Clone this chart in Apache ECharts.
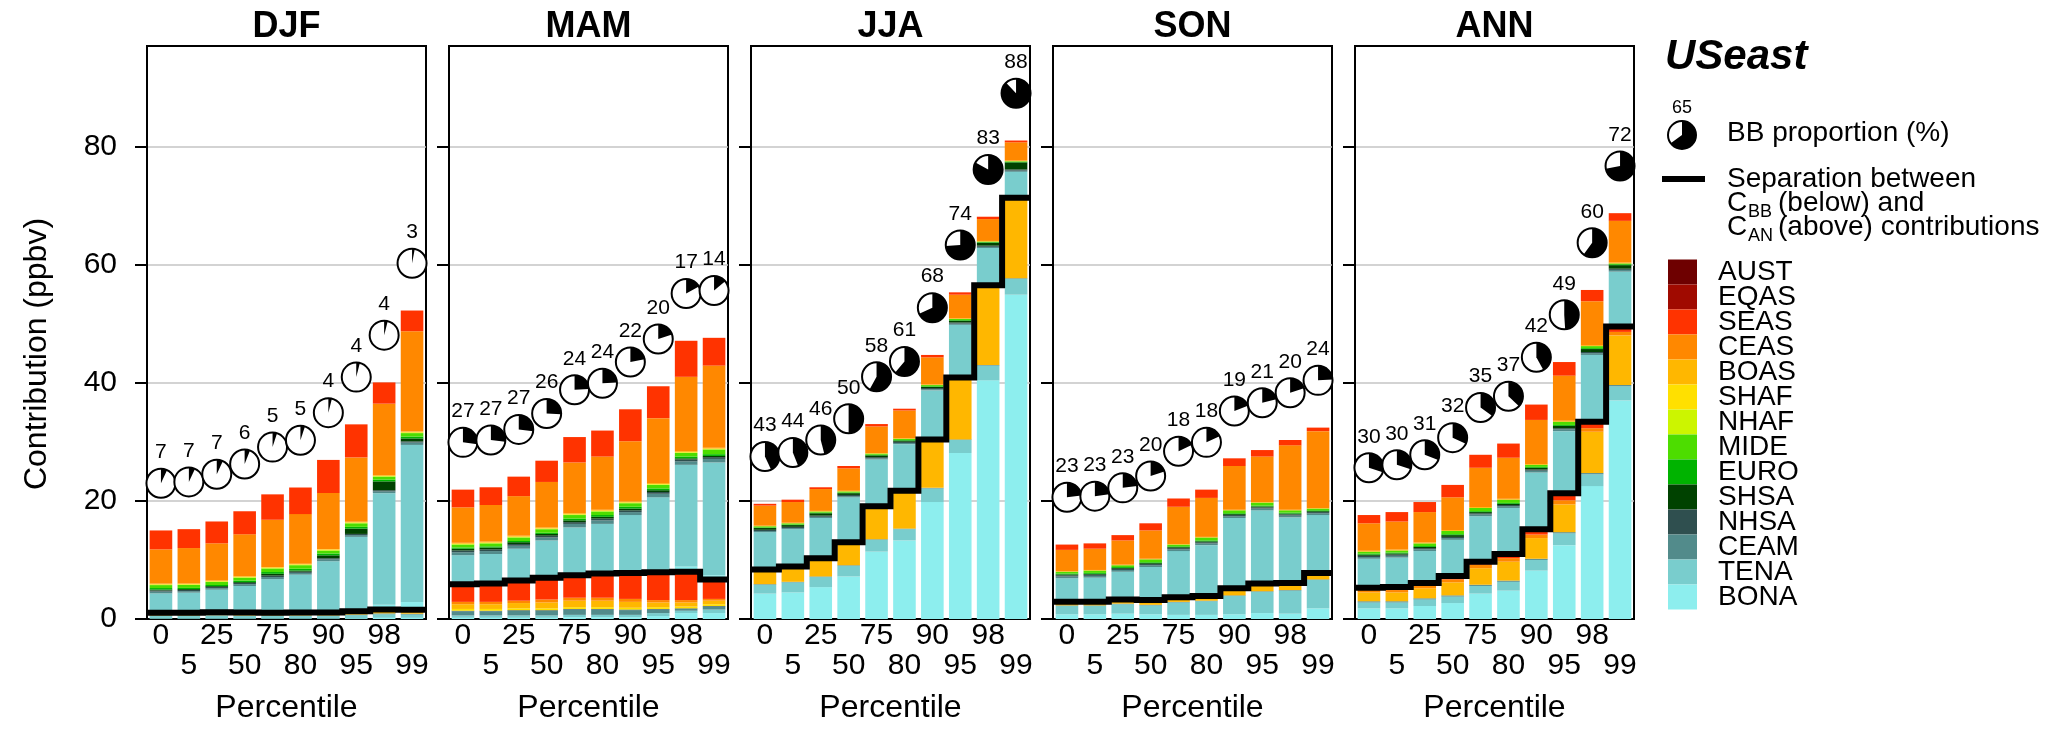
<!DOCTYPE html>
<html><head><meta charset="utf-8">
<script src="https://cdn.jsdelivr.net/npm/echarts@6/dist/echarts.min.js"></script>
<style>html,body{margin:0;padding:0;background:#fff}#c{width:2067px;height:735px}</style>
</head><body><div id="c"></div>
<script>
// ---------------- DATA ----------------
const PERCENTILES = ['0','5','25','50','75','80','90','95','98','99'];
const SEASONS = ['DJF','MAM','JJA','SON','ANN'];
const REGIONS = ['BONA','TENA','CEAM','NHSA','SHSA','EURO','MIDE','NHAF','SHAF','BOAS','CEAS','SEAS','EQAS','AUST'];
const Y_TICKS = [0,20,40,60,80];

// BB proportion (%) labels on the pies
const DJF_PCT = [7,7,7,6,5,5,4,4,4,3];
const MAM_PCT = [27,27,27,26,24,24,22,20,17,14];
const JJA_PCT = [43,44,46,50,58,61,68,74,83,88];
const SON_PCT = [23,23,23,20,18,18,19,21,20,24];
const ANN_PCT = [30,30,31,32,35,37,42,49,60,72];

// C_BB contributions (below the black line), ppbv
const DJF_BB = {
  BONA:[0.1,0.1,0.1,0.1,0.1,0.1,0.1,0.15,0.2,0.2],
  TENA:[0.4,0.4,0.45,0.4,0.4,0.4,0.4,0.5,0.6,0.55],
  CEAM:[0.1,0.1,0.1,0.1,0.1,0.1,0.1,0.1,0.15,0.15],
  BOAS:[0.15,0.15,0.2,0.2,0.2,0.25,0.25,0.3,0.4,0.4],
  CEAS:[0.15,0.15,0.15,0.15,0.15,0.15,0.15,0.15,0.15,0.15],
  SEAS:[0.14,0.16,0.16,0.14,0.1,0.11,0.08,0.1,0.1,0.12]
};
const MAM_BB = {
  BONA:[0.2,0.2,0.2,0.2,0.3,0.3,0.3,0.5,1.0,1.0],
  TENA:[0.4,0.4,0.4,0.4,0.4,0.4,0.4,0.5,0.4,0.6],
  CEAM:[0.7,0.7,0.8,0.8,0.9,0.9,0.8,0.6,0.3,0.5],
  NHSA:[0.1,0.1,0.1,0.1,0.1,0.1,0.1,0.1,0.1,0.1],
  SHAF:[0.3,0.3,0.3,0.3,0.3,0.3,0.3,0.3,0.3,0.3],
  BOAS:[0.8,0.8,0.9,1.0,1.1,1.1,1.0,0.8,0.7,0.6],
  CEAS:[0.4,0.4,0.4,0.5,0.5,0.5,0.5,0.4,0.4,0.3],
  SEAS:[3.0,3.1,3.4,3.7,3.8,4.1,4.4,4.7,4.8,3.3]
};
const JJA_BB = {
  BONA:[4.3,4.5,5.4,7.2,11.4,13.3,19.8,28.1,40.4,54.9],
  TENA:[1.5,1.7,1.7,1.8,2.0,1.9,2.3,2.2,2.5,2.7],
  CEAM:[0.1,0.1,0.1,0.1,0.1,0.1,0.1,0.1,0.1,0.1],
  BOAS:[2.4,2.5,3.0,3.8,5.5,6.3,8.1,10.4,13.4,13.5],
  CEAS:[0.1,0.1,0.1,0.1,0.1,0.1,0.1,0.1,0.1,0.1]
};
const SON_BB = {
  BONA:[0.8,0.8,0.9,0.8,0.7,0.7,0.8,1.0,0.9,1.8],
  TENA:[1.4,1.4,1.6,1.5,2.1,2.3,3.1,3.6,3.9,4.8],
  CEAM:[0.1,0.1,0.1,0.1,0.1,0.1,0.1,0.1,0.1,0.1],
  BOAS:[0.5,0.5,0.6,0.7,0.7,0.7,1.1,1.2,1.1,1.0],
  CEAS:[0.1,0.1,0.1,0.1,0.1,0.1,0.1,0.1,0.1,0.1]
};
const ANN_BB = {
  BONA:[1.8,1.8,2.2,2.7,4.3,4.8,8.2,12.5,22.5,37.0],
  TENA:[1.0,1.0,1.1,1.1,1.3,1.5,1.8,2.0,2.0,2.4],
  CEAM:[0.2,0.2,0.2,0.2,0.2,0.2,0.2,0.2,0.2,0.2],
  BOAS:[1.5,1.5,1.7,2.2,2.8,3.2,3.5,4.7,7.0,8.4],
  CEAS:[0.4,0.4,0.4,0.5,0.6,0.6,0.6,0.7,0.6,0.6],
  SEAS:[0.4,0.5,0.5,0.6,0.5,0.7,0.9,1.2,1.1,0.9]
};

// C_AN contributions (above the black line), ppbv
const DJF_AN = {
  BONA:[0.1,0.1,0.1,0.1,0.1,0.1,0.2,0.4,0.8,1.3],
  TENA:[3.2,3.3,3.7,4.4,5.6,6.3,8.5,12.2,18.9,26.6],
  CEAM:[0.3,0.25,0.25,0.3,0.35,0.3,0.3,0.3,0.3,0.4],
  NHSA:[0.2,0.2,0.2,0.2,0.25,0.2,0.2,0.2,0.2,0.2],
  SHSA:[0.15,0.15,0.15,0.15,0.3,0.2,0.5,0.9,1.5,0.5],
  EURO:[0.25,0.2,0.2,0.25,0.3,0.3,0.3,0.3,0.3,0.3],
  MIDE:[0.5,0.5,0.5,0.5,0.6,0.6,0.5,0.6,0.5,0.6],
  NHAF:[0.1,0.1,0.1,0.1,0.1,0.1,0.1,0.1,0.1,0.1],
  SHAF:[0.05,0.05,0.05,0.05,0.05,0.05,0.05,0.05,0.05,0.05],
  BOAS:[0.1,0.1,0.1,0.1,0.1,0.1,0.1,0.1,0.1,0.1],
  CEAS:[5.8,6.0,6.3,7.1,8.0,8.4,9.5,10.9,12.1,17.0],
  SEAS:[3.2,3.2,3.7,3.9,4.3,4.5,5.6,5.6,3.6,3.5]
};
const MAM_AN = {
  BONA:[0.1,0.1,0.1,0.1,0.1,0.1,0.2,0.3,0.9,0.7],
  TENA:[4.8,4.9,5.3,6.2,8.0,8.3,9.6,12.4,17.2,19.1],
  CEAM:[0.5,0.5,0.5,0.5,0.6,0.6,0.5,0.6,0.6,0.6],
  NHSA:[0.3,0.3,0.3,0.3,0.3,0.3,0.3,0.3,0.3,0.3],
  SHSA:[0.3,0.3,0.3,0.3,0.3,0.3,0.3,0.3,0.2,0.2],
  EURO:[0.2,0.2,0.2,0.2,0.3,0.3,0.3,0.3,0.3,0.3],
  MIDE:[0.5,0.5,0.6,0.6,0.6,0.6,0.6,0.6,0.6,0.8],
  NHAF:[0.1,0.1,0.1,0.1,0.1,0.1,0.1,0.1,0.1,0.1],
  SHAF:[0.05,0.05,0.05,0.05,0.05,0.05,0.05,0.05,0.05,0.05],
  BOAS:[0.15,0.15,0.15,0.15,0.15,0.15,0.15,0.15,0.15,0.15],
  CEAS:[6.0,6.2,6.7,7.7,8.6,9.0,10.2,11.0,12.6,13.9],
  SEAS:[3.0,3.0,3.3,3.6,4.3,4.4,5.4,5.4,6.1,4.7]
};
const JJA_AN = {
  BONA:[0.1,0.1,0.1,0.1,0.1,0.1,0.1,0.1,0.1,0.1],
  TENA:[6.2,6.2,6.7,7.5,7.8,7.8,8.2,8.8,6.2,4.3],
  CEAM:[0.2,0.2,0.2,0.2,0.2,0.2,0.2,0.2,0.2,0.2],
  NHSA:[0.2,0.2,0.2,0.2,0.2,0.2,0.2,0.2,0.2,0.2],
  SHSA:[0.3,0.3,0.4,0.3,0.3,0.2,0.2,0.3,0.5,1.2],
  EURO:[0.1,0.1,0.1,0.1,0.1,0.1,0.1,0.1,0.1,0.1],
  MIDE:[0.2,0.2,0.2,0.2,0.2,0.2,0.2,0.2,0.1,0.1],
  BOAS:[0.1,0.1,0.1,0.1,0.1,0.1,0.1,0.1,0.1,0.1],
  CEAS:[3.4,3.5,3.7,3.8,4.5,4.7,4.6,4.0,3.7,3.1],
  SEAS:[0.3,0.4,0.3,0.4,0.4,0.3,0.4,0.4,0.4,0.3]
};
const SON_AN = {
  BONA:[0.1,0.1,0.1,0.1,0.1,0.1,0.1,0.1,0.1,0.1],
  TENA:[3.9,4.0,4.6,5.5,7.7,8.5,11.8,12.3,11.0,9.7],
  CEAM:[0.3,0.3,0.3,0.3,0.3,0.3,0.3,0.3,0.3,0.3],
  NHSA:[0.2,0.2,0.2,0.2,0.2,0.2,0.2,0.2,0.2,0.2],
  SHSA:[0.15,0.15,0.15,0.15,0.15,0.15,0.15,0.15,0.15,0.15],
  EURO:[0.15,0.15,0.15,0.15,0.15,0.15,0.15,0.15,0.15,0.15],
  MIDE:[0.3,0.4,0.3,0.5,0.3,0.5,0.5,0.5,0.4,0.3],
  BOAS:[0.1,0.1,0.1,0.1,0.1,0.1,0.1,0.1,0.1,0.1],
  CEAS:[3.6,3.6,4.1,4.8,6.3,6.6,7.4,7.7,10.9,13.0],
  SEAS:[0.9,0.9,0.9,1.2,1.4,1.4,1.3,1.1,0.9,0.6]
};
const ANN_AN = {
  BONA:[0.1,0.1,0.1,0.1,0.1,0.1,0.1,0.1,0.1,0.1],
  TENA:[4.8,4.9,5.3,6.0,7.6,7.7,9.5,10.4,11.2,9.2],
  CEAM:[0.3,0.3,0.3,0.3,0.3,0.3,0.3,0.3,0.3,0.3],
  NHSA:[0.2,0.2,0.2,0.2,0.2,0.2,0.2,0.2,0.2,0.2],
  SHSA:[0.2,0.2,0.2,0.3,0.2,0.2,0.3,0.4,0.5,0.6],
  EURO:[0.15,0.15,0.15,0.15,0.15,0.15,0.15,0.15,0.15,0.15],
  MIDE:[0.35,0.35,0.45,0.55,0.55,0.55,0.35,0.55,0.35,0.15],
  BOAS:[0.15,0.15,0.15,0.15,0.15,0.15,0.15,0.15,0.15,0.15],
  CEAS:[4.65,4.75,5.15,5.55,6.65,6.95,7.45,7.65,7.45,7.05],
  SEAS:[1.4,1.6,1.7,2.1,2.2,2.4,2.6,2.3,1.9,1.3]
};

// ---------------- STYLE / LAYOUT ----------------
const COLORS = {
  BONA:'#8deeee', TENA:'#79cdcd', CEAM:'#528b8b', NHSA:'#2f4f4f', SHSA:'#004200',
  EURO:'#00b300', MIDE:'#4ddd00', NHAF:'#ccf500', SHAF:'#ffe000', BOAS:'#ffb700',
  CEAS:'#ff8800', SEAS:'#ff3300', EQAS:'#a00a00', AUST:'#6e0000'
};
const FONT = '"Liberation Sans", Arial, Helvetica, sans-serif';
const LAY = {left0:147, step:302, width:279, top:46, bottom:116};
const PIE_OFFSET = 8;   // pies sit 8 ppbv above the bar top
const PIE_R = 14.5;

const PANELS = [
  {pct:DJF_PCT, bb:DJF_BB, an:DJF_AN},
  {pct:MAM_PCT, bb:MAM_BB, an:MAM_AN},
  {pct:JJA_PCT, bb:JJA_BB, an:JJA_AN},
  {pct:SON_PCT, bb:SON_BB, an:SON_AN},
  {pct:ANN_PCT, bb:ANN_BB, an:ANN_AN}
];
const zeros = PERCENTILES.map(() => 0);
const sumRegions = (obj, i) => REGIONS.reduce((s, r) => s + (obj[r] ? obj[r][i] : 0), 0);

const grid = [], xAxis = [], yAxis = [], series = [], graphic = [];

PANELS.forEach((P, k) => {
  const left = LAY.left0 + k * LAY.step;
  grid.push({left, top:LAY.top, width:LAY.width, bottom:LAY.bottom, show:true,
    borderColor:'#000', borderWidth:2, backgroundColor:'transparent', outerBoundsMode:'none'});
  xAxis.push({type:'category', gridIndex:k, data:PERCENTILES, boundaryGap:true,
    axisLine:{show:true, lineStyle:{color:'#000', width:2}},
    axisTick:{show:false},
    axisLabel:{interval:0, fontSize:30, fontFamily:FONT, color:'#000', margin:2, lineHeight:30,
      formatter:(v, i) => (i % 2 ? '\n' + v : v)},
    splitLine:{show:false},
    name:'Percentile', nameLocation:'middle', nameGap:73, nameMoveOverlap:false,
    nameTextStyle:{fontSize:32, fontFamily:FONT, color:'#000'}});
  yAxis.push({type:'value', gridIndex:k, min:0, max:97, interval:20,
    axisLine:{show:true, lineStyle:{color:'#000', width:2}},
    axisTick:{show:true, length:12, customValues:Y_TICKS, lineStyle:{color:'#000', width:2}},
    axisLabel:{show:k === 0, customValues:Y_TICKS, fontSize:30, fontFamily:FONT, color:'#000', margin:30},
    splitLine:{show:true, showMinLine:false, lineStyle:{color:'#c4c4c4', width:1.5}}});

  [P.bb, P.an].forEach(part => {
    REGIONS.forEach(r => {
      series.push({type:'bar', name:r, xAxisIndex:k, yAxisIndex:k, stack:'s' + k,
        barWidth:'81%', silent:true, itemStyle:{color:COLORS[r]},
        data:part[r] ? part[r] : zeros});
    });
  });

  const bbTot = PERCENTILES.map((_, i) => sumRegions(P.bb, i));
  const tot = PERCENTILES.map((_, i) => bbTot[i] + sumRegions(P.an, i));

  // separation line between C_BB and C_AN (step line)
  series.push({type:'custom', xAxisIndex:k, yAxisIndex:k, silent:true, clip:false, z:5,
    data:[[0, 0]],
    renderItem:(params, api) => {
      const band = api.size([1, 0])[0];
      const pts = [];
      bbTot.forEach((v, i) => {
        const c = api.coord([i, v]);
        pts.push([c[0] - band / 2, c[1]], [c[0] + band / 2, c[1]]);
      });
      return {type:'polyline', shape:{points:pts},
        style:{stroke:'#000', lineWidth:6, fill:null, lineJoin:'miter', lineCap:'butt'}};
    }});

  // pies: BB proportion
  series.push({type:'custom', xAxisIndex:k, yAxisIndex:k, silent:true, clip:false, z:6,
    data:PERCENTILES.map((_, i) => [i, tot[i] + PIE_OFFSET, P.pct[i]]),
    renderItem:(params, api) => {
      const c = api.coord([api.value(0), api.value(1)]);
      const p = api.value(2);
      const a0 = -Math.PI / 2;
      return {type:'group', children:[
        {type:'circle', shape:{cx:c[0], cy:c[1], r:PIE_R}, style:{fill:'#fff'}},
        {type:'sector', shape:{cx:c[0], cy:c[1], r0:0, r:PIE_R, startAngle:a0,
          endAngle:a0 + 2 * Math.PI * p / 100, clockwise:true}, style:{fill:'#000'}},
        {type:'circle', shape:{cx:c[0], cy:c[1], r:PIE_R}, style:{fill:null, stroke:'#000', lineWidth:2}},
        {type:'text', x:c[0], y:c[1] - 31, style:{text:String(p), fill:'#000', fontSize:21,
          fontFamily:FONT, textAlign:'center', textVerticalAlign:'middle', align:'center', verticalAlign:'middle'}}
      ]};
    }});

  graphic.push({type:'text', x:left + LAY.width / 2, y:27,
    style:{text:SEASONS[k], fill:'#000', font:'bold 36px ' + FONT,
      textAlign:'center', textVerticalAlign:'middle', align:'center', verticalAlign:'middle'}});
});

// y-axis title
graphic.push({type:'text', x:37, y:354, rotation:Math.PI / 2,
  style:{text:'Contribution (ppbv)', fill:'#000', font:'32px ' + FONT,
    textAlign:'center', textVerticalAlign:'middle', align:'center', verticalAlign:'middle'}});

// legend block on the right
const txt = (x, y, t, size, extra) => ({type:'text', x, y,
  style:Object.assign({text:t, fill:'#000', font:size + 'px ' + FONT,
    textAlign:'left', textVerticalAlign:'middle', align:'left', verticalAlign:'middle'}, extra || {})});
graphic.push(txt(1665, 57, 'USeast', 42, {font:'italic bold 42px ' + FONT}));
const LP = 65;
graphic.push({type:'circle', shape:{cx:1682, cy:135, r:14}, style:{fill:'#fff'}});
graphic.push({type:'sector', shape:{cx:1682, cy:135, r0:0, r:14, startAngle:-Math.PI/2,
  endAngle:-Math.PI/2 + 2*Math.PI*LP/100, clockwise:true}, style:{fill:'#000'}});
graphic.push({type:'circle', shape:{cx:1682, cy:135, r:14}, style:{fill:null, stroke:'#000', lineWidth:2}});
graphic.push(txt(1682, 108, String(LP), 18, {textAlign:'center', align:'center'}));
graphic.push(txt(1727, 133, 'BB proportion (%)', 28));
graphic.push({type:'line', shape:{x1:1662, y1:179, x2:1705, y2:179}, style:{stroke:'#000', lineWidth:6}});
graphic.push(txt(1727, 179, 'Separation between', 28));
graphic.push(txt(1727, 203, 'C', 28));
graphic.push(txt(1748, 212, 'BB', 18));
graphic.push(txt(1778, 203, '(below) and', 28));
graphic.push(txt(1727, 227, 'C', 28));
graphic.push(txt(1748, 236, 'AN', 18));
graphic.push(txt(1778, 227, '(above) contributions', 28));

const chart = echarts.init(document.getElementById('c'), null, {renderer:'canvas'});
chart.setOption({
  animation:false,
  backgroundColor:'#fff',
  grid, xAxis, yAxis, series, graphic,
  legend:{orient:'vertical', left:1668, top:258, itemWidth:29, itemHeight:25, itemGap:-3, padding:0,
    icon:'rect', selectedMode:false, data:REGIONS.slice().reverse(),
    textStyle:{fontSize:28, fontFamily:FONT, color:'#000', padding:[0,0,0,16]}}
});
</script></body></html>
